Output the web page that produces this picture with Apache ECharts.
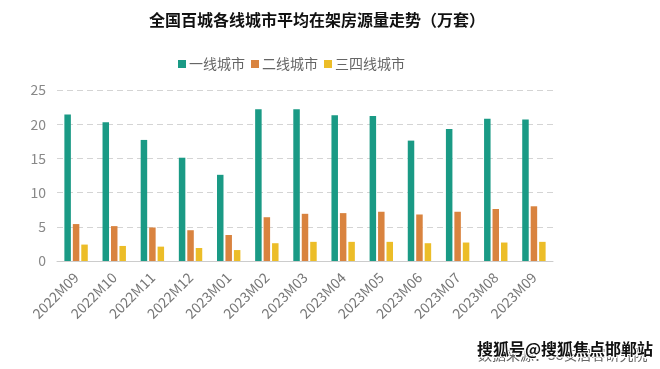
<!DOCTYPE html>
<html><head><meta charset="utf-8">
<script src="https://cdn.jsdelivr.net/npm/echarts@6/dist/echarts.min.js"></script>
<style>html,body{margin:0;padding:0;background:#fff}#c{width:660px;height:369px}</style>
</head><body><div id="c"></div>
<script>
const categories = ['2022M09','2022M10','2022M11','2022M12','2023M01','2023M02','2023M03','2023M04','2023M05','2023M06','2023M07','2023M08','2023M09'];
const tier1 = [21.4, 20.3, 17.7, 15.1, 12.6, 22.2, 22.2, 21.3, 21.2, 17.6, 19.3, 20.8, 20.7];
const tier2 = [5.4, 5.1, 4.9, 4.5, 3.8, 6.4, 6.9, 7.0, 7.2, 6.8, 7.2, 7.6, 8.0];
const tier34 = [2.4, 2.2, 2.1, 1.9, 1.6, 2.6, 2.8, 2.8, 2.8, 2.6, 2.7, 2.7, 2.8];
const seriesNames = ['一线城市', '二线城市', '三四线城市'];
const titleText = '全国百城各线城市平均在架房源量走势（万套）';
const sourceText = '数据来源：58安居客研究院';
const watermarkText = '搜狐号@搜狐焦点邯郸站';

const font = '"Noto Sans CJK SC", "Noto Sans", sans-serif';
const colors = ['#1a9a85', '#d9833f', '#ecbd28'];
const chart = echarts.init(document.getElementById('c'));
const mk = (name, data, i) => ({
  name, type: 'bar', data, barWidth: 6.5, barGap: '30%',
  itemStyle: { color: colors[i] }
});
chart.setOption({
  animation: false,
  textStyle: { fontFamily: font },
  title: {
    text: titleText, left: 312, top: 7, textAlign: 'center',
    textStyle: { fontSize: 16, fontWeight: 'bold', color: '#111', fontFamily: font }
  },
  legend: {
    data: seriesNames, left: 173, top: 52,
    itemWidth: 8, itemHeight: 8, itemGap: 6, icon: 'rect',
    textStyle: { fontSize: 14, color: '#666', fontFamily: font, padding: [0, 0, 0, -2] }
  },
  grid: { left: 57, right: 107, top: 90, bottom: 108, containLabel: false },
  xAxis: {
    type: 'category', data: categories,
    axisLine: { lineStyle: { color: '#ccc' } },
    axisTick: { show: false },
    axisLabel: { rotate: 45, color: '#777', fontSize: 14, margin: 14, interval: 0, fontFamily: font }
  },
  yAxis: {
    type: 'value', min: 0, max: 25, interval: 5,
    axisLine: { show: false }, axisTick: { show: false },
    axisLabel: { color: '#888', fontSize: 14, margin: 11, fontFamily: font },
    splitLine: { lineStyle: { color: '#d4d4d4', type: [6, 4] } }
  },
  series: [mk(seriesNames[0], tier1, 0), mk(seriesNames[1], tier2, 1), mk(seriesNames[2], tier34, 2)],
  graphic: [
    { type: 'text', left: 478, top: 348, style: { text: sourceText, fontSize: 14, fill: '#666', fontFamily: font } },
    { type: 'text', left: 476, top: 340, style: { text: watermarkText, fontSize: 16, fontWeight: 'bold', fill: '#111', stroke: '#fff', lineWidth: 2, fontFamily: font } }
  ]
});
</script></body></html>
